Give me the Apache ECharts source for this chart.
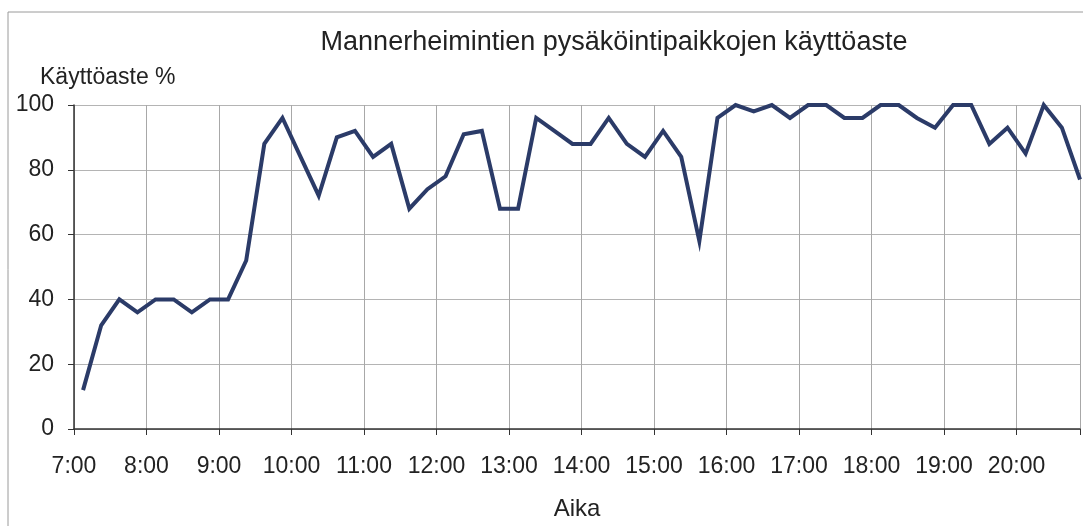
<!DOCTYPE html>
<html>
<head>
<meta charset="utf-8">
<title>Mannerheimintien pysäköintipaikkojen käyttöaste</title>
<script src="https://cdn.jsdelivr.net/npm/echarts@6/dist/echarts.min.js"></script>
<style>
    html, body { margin: 0; padding: 0; background: #fff; }
    #chart { width: 1083px; height: 526px; }
</style>
</head>
<body>
<div id="chart"></div>
<script>
// 15 min laskentajaksot (alkuaika)
const slots = [
    '7:00', '7:15', '7:30', '7:45', '8:00', '8:15', '8:30', '8:45',
    '9:00', '9:15', '9:30', '9:45', '10:00', '10:15', '10:30', '10:45',
    '11:00', '11:15', '11:30', '11:45', '12:00', '12:15', '12:30', '12:45',
    '13:00', '13:15', '13:30', '13:45', '14:00', '14:15', '14:30', '14:45',
    '15:00', '15:15', '15:30', '15:45', '16:00', '16:15', '16:30', '16:45',
    '17:00', '17:15', '17:30', '17:45', '18:00', '18:15', '18:30', '18:45',
    '19:00', '19:15', '19:30', '19:45', '20:00', '20:15', '20:30', '20:45'
];
// käyttöaste %
const usage = [
    12, 32, 40, 36, 40, 40, 36, 40,
    40, 52, 88, 96, 84, 72, 90, 92,
    84, 88, 68, 74, 78, 91, 92, 68,
    68, 96, 92, 88, 88, 96, 88, 84,
    92, 84, 58, 96, 100, 98, 100, 96,
    100, 100, 96, 96, 100, 100, 96, 93,
    100, 100, 88, 93, 85, 100, 93, 77
];
const yTicks = [0, 20, 40, 60, 80, 100];

// piste jakson keskelle
function slotMid(s) {
    const p = s.split(':');
    return Number(p[0]) + (Number(p[1]) + 7.5) / 60;
}

const chart = echarts.init(document.getElementById('chart'));
const font = 'Liberation Sans, Arial, sans-serif';

const option = {
    animation: false,
    title: [
        {
            text: 'Mannerheimintien pysäköintipaikkojen käyttöaste',
            left: 609,
            top: 24,
            textAlign: 'center',
            textStyle: { fontFamily: font, fontSize: 27, fontWeight: 'normal', color: '#222' }
        },
        {
            text: 'Käyttöaste %',
            left: 35,
            top: 61,
            textStyle: { fontFamily: font, fontSize: 23, fontWeight: 'normal', color: '#222' }
        }
    ],
    graphic: [
        {
            type: 'rect',
            shape: { x: 8, y: 12, width: 1200, height: 600 },
            style: { fill: 'none', stroke: '#9a9a9a', lineWidth: 1 },
            silent: true
        }
    ],
    grid: {
        left: 74,
        right: 0,
        top: 105,
        bottom: 97
    },
    xAxis: {
        type: 'value',
        min: 7,
        max: 20.875, // kuva leikkautuu ennen klo 21
        interval: 1,
        name: 'Aika',
        nameLocation: 'middle',
        nameGap: 68,
        nameTextStyle: { fontFamily: font, fontSize: 24, color: '#222' },
        axisLine: { lineStyle: { color: '#333', width: 1.5 } },
        axisTick: { show: true, length: 6, lineStyle: { color: '#333' } },
        axisLabel: {
            fontFamily: font,
            fontSize: 23,
            color: '#222',
            margin: 26,
            formatter: function (v) { return v % 1 === 0 ? v + ':00' : ''; }
        },
        splitLine: { show: true, lineStyle: { color: '#a8a8a8', width: 1 } }
    },
    yAxis: {
        type: 'value',
        min: yTicks[0],
        max: yTicks[yTicks.length - 1],
        interval: 20,
        axisLine: { show: true, lineStyle: { color: '#333', width: 1.5 } },
        axisTick: { show: true, length: 6, lineStyle: { color: '#333' } },
        axisLabel: { fontFamily: font, fontSize: 23, color: '#222', margin: 20 },
        splitLine: { show: true, lineStyle: { color: '#b4b4b4', width: 1 } }
    },
    series: [
        {
            type: 'line',
            data: slots.map(function (s, i) { return [slotMid(s), usage[i]]; }),
            showSymbol: false,
            clip: false,
            lineStyle: { color: '#2b3b68', width: 4, join: 'miter' }
        }
    ]
};

chart.setOption(option);
</script>
</body>
</html>
